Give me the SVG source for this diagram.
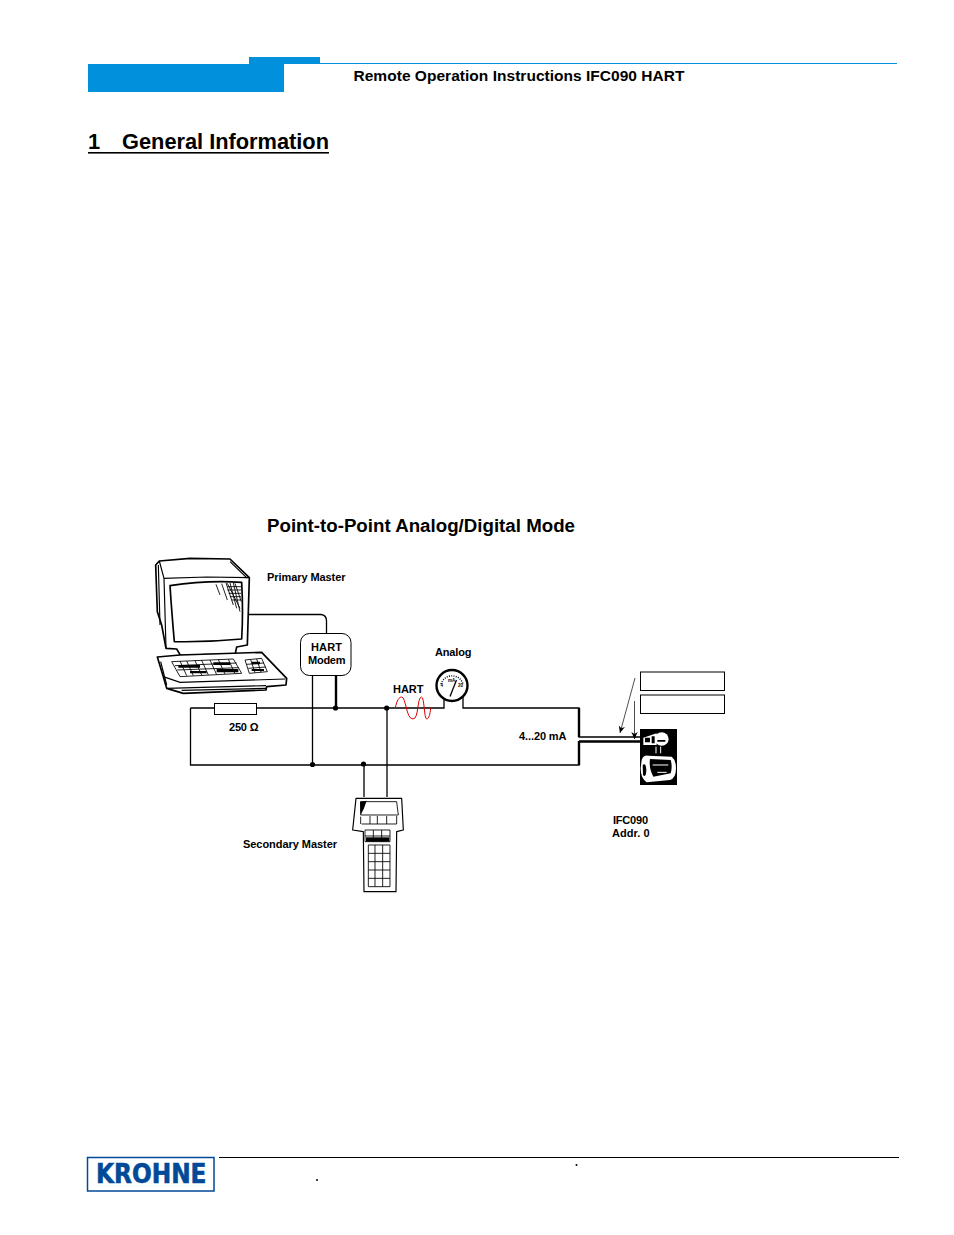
<svg xmlns="http://www.w3.org/2000/svg" width="954" height="1235" viewBox="0 0 954 1235">
<style>
text{font-family:"Liberation Sans",Arial,sans-serif;font-weight:bold;fill:#000}
.l{font-size:11px}
.w{fill:none;stroke:#000;stroke-width:1.3}
.t{fill:none;stroke:#000;stroke-width:2.4}
.a{fill:none;stroke:#222;stroke-width:.8;marker-end:url(#ah)}
.sk{fill:#fff;stroke:#000;stroke-width:5;stroke-linejoin:round}
.sn{fill:none;stroke:#000;stroke-width:3.5}
.sm{fill:none;stroke:#000;stroke-width:2.6}
.wh{fill:#fff;stroke:none}
.wn{fill:none;stroke:#fff;stroke-width:3}
</style>
<defs>
<marker id="ah" markerWidth="9" markerHeight="9" refX="7" refY="3.5" orient="auto" markerUnits="userSpaceOnUse"><path d="M0,0.3L7,3.5L0,6.7L2,3.5Z" fill="#000"/></marker>
</defs>
<rect width="954" height="1235" fill="#fff"/>
<g id="header">
<rect x="88" y="64" width="196" height="28" fill="#0090dc"/>
<rect x="249" y="57" width="71" height="7" fill="#0090dc"/>
<rect x="320" y="63" width="577" height="1" fill="#0090dc"/>
<text x="353.5" y="81" font-size="15.5" textLength="331">Remote Operation Instructions IFC090 HART</text>
</g>
<text id="section-title" x="88" y="149" font-size="21.8">1</text>
<text x="122" y="149" font-size="21.8" textLength="207">General Information</text>
<rect x="88" y="152" width="241" height="1.6" fill="#000"/>
<text id="diagram-title" x="267" y="532" font-size="18.7" textLength="308">Point-to-Point Analog/Digital Mode</text>

<g id="connectors">
<path class="w" d="M190.5,708H444V697M463,697V708H579V737H640"/>
<path class="w" d="M190.5,708V765H579V741"/>
<path class="t" d="M579,708V737M579,741V765M579,741.5H640"/>
<path class="w" d="M247,614.5H321Q326.5,615 326.5,621V633"/>
<path class="w" d="M312.5,675V765M364,765V797M387,708V797"/>
<path class="t" d="M336,675V708"/>
<path fill="none" stroke="#e00000" stroke-width="1" d="M395.3,708C397,700 399,697 401.7,697C406,697 406,719 413,719C419,719 417,697 421.5,697C424.5,697 424,719 426.7,719C429,719 430,714 430.7,708"/>
<circle cx="335.5" cy="708" r="2.6"/>
<circle cx="386.7" cy="708" r="2.6"/>
<circle cx="312.5" cy="764.5" r="2.6"/>
<circle cx="363.5" cy="764" r="2.6"/>
<path class="a" d="M635,678L620,733"/>
<path class="a" d="M634.5,701V739"/>
</g>

<g id="primary-master">
<g transform="translate(140,545) scale(.33333)">
<path class="sk" d="M47,60L58,48L150,40L270,42L328,98L322,300L290,306L286,326L122,332L110,312L78,310L65,240L52,200Z"/>
<path class="sn" d="M58,48L72,100L200,96L328,98M72,100L78,310M55,60L60,240M270,50L322,100"/>
<path class="sk" d="M90,122Q200,105 305,112Q310,200 305,282Q200,292 103,290Q95,200 90,122Z"/>
<path class="sm" d="M228,118L240,150M245,116L262,165M258,114L280,180M270,114L290,190M280,114L300,200M262,125H303M262,135H303M266,145H303M270,155H303M275,165H303M262,115L300,190M285,115L304,170"/>
<path class="sk" d="M52,336L120,330L365,322L440,400L438,420L380,425L378,435L130,445L80,430L70,395Z"/>
<path class="sn" d="M70,395L120,412L436,402M80,430L378,422M125,436L378,430M62,350L80,420"/>
<path class="sm" d="M95,350L280,342L305,385L120,395ZM105,362L290,354M112,375L297,368M120,348L140,392M140,348L160,392M165,347L185,390M185,346L205,390M210,345L230,389M235,344L255,387M265,343L285,386M315,345L365,340L382,380L328,385ZM320,358L372,354M325,370L378,366M332,344L345,383M350,342L363,381"/>
<path fill="#000" d="M115,360H180V368H115ZM220,352H270V360H220ZM150,378H200V385H150ZM230,372H295V382H230ZM335,350H360V358H335ZM335,372H372V378H335Z"/>
</g>
<text class="l" x="267" y="581" textLength="78.5">Primary Master</text>
</g>

<g id="hart-modem">
<rect x="300.5" y="633.5" width="50.5" height="42" rx="9" fill="#fff" stroke="#000" stroke-width="1"/>
<text class="l" x="311" y="651" textLength="31">HART</text>
<text class="l" x="308" y="664" textLength="37.5">Modem</text>
</g>

<g id="resistor">
<rect x="214.5" y="703.5" width="42" height="11" fill="#fff" stroke="#000" stroke-width="1"/>
<text class="l" x="229" y="731" textLength="29.5">250 Ω</text>
</g>

<g id="hart-signal"><text class="l" x="393" y="693" textLength="30.5">HART</text></g>

<g id="analog-gauge">
<text class="l" x="435" y="656" textLength="36.5">Analog</text>
<circle cx="452" cy="685.5" r="15.5" fill="#fff" stroke="#000" stroke-width="2.4"/>
<path stroke="#000" stroke-width="1.4" fill="none" stroke-dasharray="1 1.3" d="M441,684A11.5,11.5 0 0 1 463,684"/>
<path stroke="#000" stroke-width="1.3" d="M450,696.5L456.5,680"/>
<text x="440.5" y="687" font-size="4.5">4</text>
<text x="448" y="682" font-size="4.5">mA</text>
<text x="458" y="687" font-size="4.5">20</text>
</g>

<g id="current-label"><text class="l" x="519" y="740" textLength="47.5">4...20 mA</text></g>

<g id="empty-boxes">
<rect x="640.5" y="672" width="84" height="18.5" fill="#fff" stroke="#000" stroke-width="1"/>
<rect x="640.5" y="695" width="84" height="18.5" fill="#fff" stroke="#000" stroke-width="1"/>
</g>

<g id="ifc090">
<rect x="640" y="729" width="37" height="56" fill="#000"/>
<g transform="translate(600,665) scale(.33333)">
<ellipse class="wh" cx="185" cy="222" rx="21" ry="20"/>
<path class="wh" d="M130,218L170,205V240L130,240Z"/>
<path fill="#000" d="M172,225H196V230H172ZM135,218H150V232H135ZM155,214H164V235H155Z"/>
<path class="wn" d="M168,245V265M182,245V265"/>
<path class="wh" d="M125,285Q130,270 145,272L215,275Q228,285 228,310Q228,340 210,345L140,352Q122,340 122,310Z"/>
<path fill="#000" d="M150,282L212,285Q218,305 212,325L160,335Q146,310 150,282ZM128,300Q138,292 139,315Q138,340 129,330Z"/>
<path class="wn" d="M158,300H205M172,322H200"/>
</g>
<text class="l" x="613" y="824" textLength="35">IFC090</text>
<text class="l" x="612" y="837" textLength="37.5">Addr. 0</text>
</g>

<g id="secondary-master">
<g transform="translate(340,750) scale(.33333)">
<path class="sk" d="M48,145L185,145L190,240L170,245L168,425L72,425L70,245L38,240Z" style="stroke-width:3.5"/>
<path class="sm" d="M62,155L170,155L175,195L62,195ZM62,200V222M65,222H170V198M90,198V222M112,198V222M140,198V222"/>
<path fill="#000" d="M60,155L80,152L72,175L62,195Z"/>
<path class="sm" d="M75,240H150V275H75ZM75,258H150M100,240V275M125,240V275M85,285H150V410H85ZM85,310H150M85,335H150M85,360H150M85,385H150M105,285V410M128,285V410"/>
<path fill="#000" d="M78,262H148V275H78Z"/>
</g>
<text class="l" x="243" y="848" textLength="94">Secondary Master</text>
</g>

<g id="footer">
<rect x="87.5" y="1157.5" width="126.5" height="33.5" fill="#fff" stroke="#004a98" stroke-width="1.5"/>
<text x="96" y="1183" font-size="26" textLength="110.5" lengthAdjust="spacingAndGlyphs" stroke="#004a98" stroke-width=".6" style="fill:#004a98;font-family:'DejaVu Sans',sans-serif">KROHNE</text>
<rect x="219" y="1157" width="680" height="1" fill="#000"/>
<circle cx="576.5" cy="1165" r="1"/>
<circle cx="317" cy="1180" r="1"/>
</g>
</svg>
